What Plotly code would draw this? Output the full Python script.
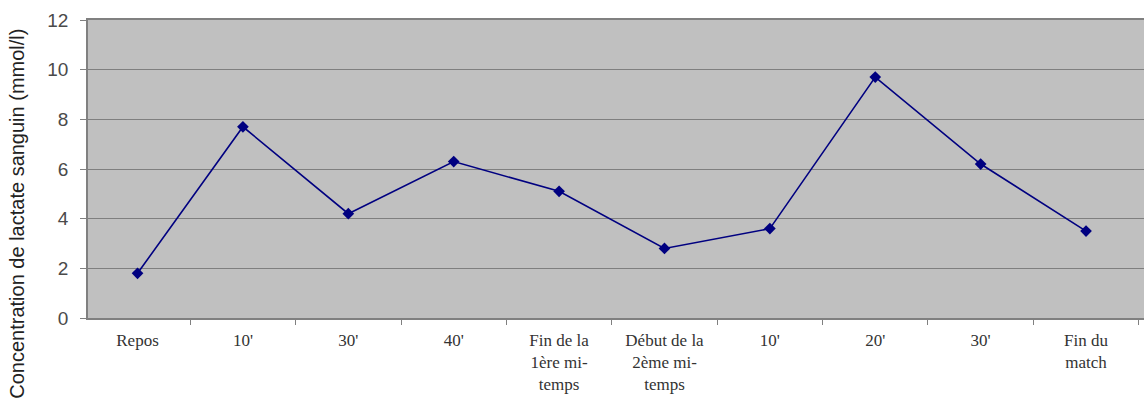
import plotly.graph_objects as go

# Blood lactate over a match (mmol/l)
moments = ["Repos", "10'", "30'", "40'",
           "Fin de la<br>1ère mi-<br>temps",
           "Début de la<br>2ème mi-<br>temps",
           "10'", "20'", "30'", "Fin du<br>match"]
lactate = [1.8, 7.7, 4.2, 6.3, 5.1, 2.8, 3.6, 9.7, 6.2, 3.5]
y_ticks = [0, 2, 4, 6, 8, 10, 12]

positions = list(range(len(moments)))

fig = go.Figure()
fig.add_trace(go.Scatter(
    x=positions, y=lactate,
    mode="lines+markers",
    line=dict(color="#000080", width=1.6),
    marker=dict(symbol="diamond", size=9, color="#000080"),
    showlegend=False,
    cliponaxis=False,
))

fig.update_layout(
    width=1144, height=406,
    margin=dict(l=88, r=0, t=20, b=88),
    paper_bgcolor="white",
    plot_bgcolor="#c0c0c0",
    xaxis=dict(
        range=[-0.47, 9.55],
        tickmode="array", tickvals=positions, ticktext=moments,
        ticks="", showgrid=False, zeroline=False,
        showline=True, linecolor="#808080", linewidth=1.5,
        mirror=True,
        tickfont=dict(family="Liberation Serif", size=17, color="#333333"),
        ticklabelstandoff=6,
        minor=dict(tickmode="array",
                   tickvals=[p + 0.5 for p in positions],
                   ticks="outside", ticklen=5, tickcolor="#808080",
                   showgrid=False),
    ),
    yaxis=dict(
        range=[0, 12], tickvals=y_ticks,
        ticks="outside", ticklen=6, tickcolor="#808080",
        showgrid=True, gridcolor="#7f7f7f", gridwidth=1.2,
        zeroline=False,
        showline=True, linecolor="#808080", linewidth=1.5,
        mirror=False,
        tickfont=dict(family="Liberation Sans", size=19, color="#4a4a4a"),
        ticklabelstandoff=8,
    ),
    annotations=[dict(
        text="Concentration de lactate sanguin (mmol/l)",
        xref="paper", yref="paper",
        x=-0.0672, y=0.35,
        xanchor="center", yanchor="middle",
        textangle=-90, showarrow=False,
        font=dict(family="Liberation Sans", size=20, color="#222222"),
    )],
)

fig.write_html("out.html")
